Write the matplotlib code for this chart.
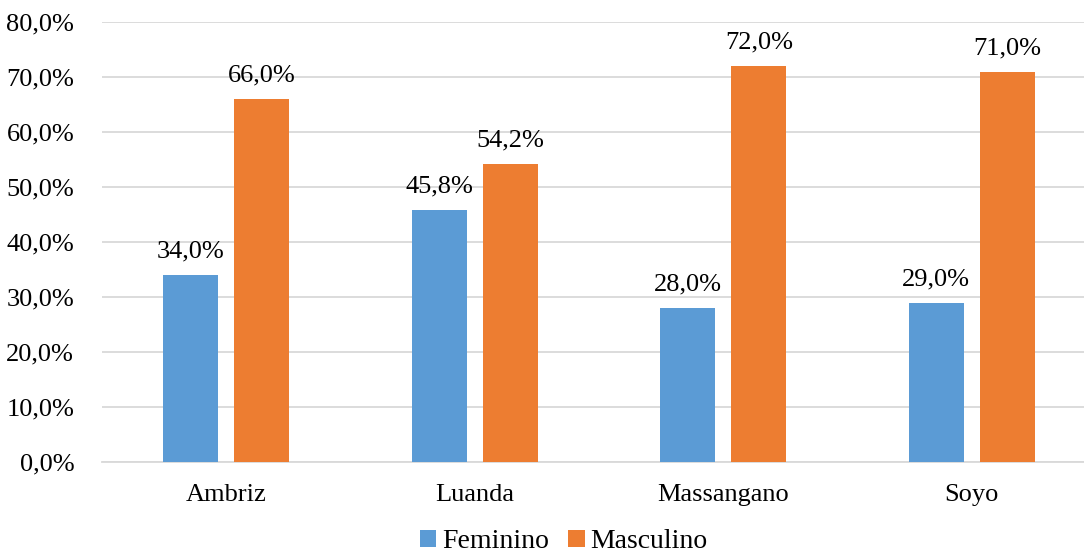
import numpy as np
import matplotlib.pyplot as plt

# dados
categorias = ["Ambriz", "Luanda", "Massangano", "Soyo"]
feminino = [34.0, 45.8, 28.0, 29.0]
masculino = [66.0, 54.2, 72.0, 71.0]
series = ["Feminino", "Masculino"]
cores = ["#5B9BD5", "#ED7D31"]

plt.rcParams['font.family'] = ['Liberation Serif', 'DejaVu Serif']

fig = plt.figure(figsize=(10.84, 5.58), dpi=100)
ax = fig.add_axes([0.0941, 0.172, 0.917, 0.7885])

x = np.arange(len(categorias))
largura = 0.221
desloc = 0.143

for vals, nome, cor, d in zip([feminino, masculino], series, cores, [-desloc, desloc]):
    barras = ax.bar(x + d, vals, width=largura, color=cor, label=nome, zorder=3)
    for b, v in zip(barras, vals):
        ax.annotate(f"{v:.1f}%".replace(".", ","),
                    (b.get_x() + b.get_width() / 2, v),
                    xytext=(0, 9), textcoords="offset points",
                    ha="center", va="bottom", fontsize=19)

ax.set_xlim(-0.5, len(categorias) - 0.5)
ax.set_ylim(0, 80)
ax.set_yticks(np.arange(0, 81, 10))
ax.set_yticklabels([f"{t:.1f}%".replace(".", ",") for t in np.arange(0, 81, 10)])
ax.set_xticks(x)
ax.set_xticklabels(categorias)
ax.tick_params(axis="both", length=0, labelsize=19)
ax.tick_params(axis="y", pad=20)
ax.tick_params(axis="x", pad=16)

ax.grid(axis="y", color="#D9D9D9", linewidth=1.3, zorder=0)
for s in ["top", "right", "left"]:
    ax.spines[s].set_visible(False)
ax.spines["bottom"].set_color("#D9D9D9")
ax.spines["bottom"].set_linewidth(1.3)

fig.legend(loc="lower center", bbox_to_anchor=(0.52, -0.038), ncol=2, frameon=False,
           fontsize=20, handlelength=0.6, handleheight=0.6, handletextpad=0.2,
           columnspacing=0.7)

fig.savefig("out.png", dpi=100)
